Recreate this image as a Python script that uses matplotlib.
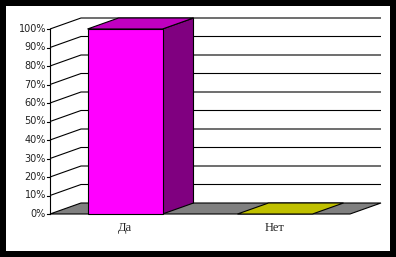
import matplotlib
matplotlib.use("Agg")
import matplotlib.pyplot as plt
from matplotlib.patches import Polygon, Rectangle

# Data
categories = ["Да", "Нет"]
values = [100, 0]  # percent
ticks = list(range(0, 101, 10))
tick_labels = [f"{t}%" for t in ticks]

front_colors = ["#FF00FF", "#FFFF00"]
top_colors = ["#C000C0", "#C0C000"]
side_colors = ["#800080", "#808000"]

fig = plt.figure(figsize=(3.96, 2.57), dpi=100)
fig.patch.set_facecolor("black")

ax = fig.add_axes([0, 0, 1, 1])
ax.set_facecolor("none")
ax.set_xlim(-50/150 - 0.5, 346/150 - 0.5)
ax.set_ylim((214-257)/1.85, 214/1.85)
ax.axis("off")
ax.add_patch(Rectangle((6/396, 6/257), 384/396, 245/257, transform=fig.transFigure,
                       facecolor="white", edgecolor="none", zorder=0))

DX = 31/150      # depth offset in x units
DY = 11/1.85     # depth offset in percent units
x0, x1 = -0.5, len(categories) - 0.5
bw = 0.5
lw = 0.8

# floor
ax.add_patch(Polygon([(x0, 0), (x1, 0), (x1+DX, DY), (x0+DX, DY)], closed=True,
                     facecolor="#808080", edgecolor="black", lw=lw, zorder=1))

# gridlines (side wall slant + back wall)
for t in ticks[1:]:
    ax.plot([x0, x0+DX, x1+DX], [t, t+DY, t+DY], color="black", lw=lw, zorder=1,
            solid_capstyle="butt")

# front axis and ticks
ax.plot([x0, x0], [0, 100], color="black", lw=lw, zorder=3)
for t, lab in zip(ticks, tick_labels):
    ax.plot([x0-2.5/150, x0], [t, t], color="black", lw=lw, zorder=3)
    ax.text(x0-4/150, t, lab, ha="right", va="center", fontsize=7,
            family="DejaVu Sans", color="#222222")

# bars
for i, (c, v) in enumerate(zip(categories, values)):
    l, r = i - bw/2, i + bw/2
    if v > 0:
        ax.add_patch(Polygon([(r, 0), (r+DX, DY), (r+DX, v+DY), (r, v)], closed=True,
                             facecolor=side_colors[i], edgecolor="black", lw=lw, zorder=4))
        ax.add_patch(Polygon([(l, 0), (r, 0), (r, v), (l, v)], closed=True,
                             facecolor=front_colors[i], edgecolor="black", lw=lw, zorder=5))
    ax.add_patch(Polygon([(l, v), (r, v), (r+DX, v+DY), (l+DX, v+DY)], closed=True,
                         facecolor=top_colors[i], edgecolor="black", lw=lw, zorder=4))
    ax.text(i, -14/1.85, c, ha="center", va="center", fontsize=9,
            family="Liberation Serif", color="#222222")

fig.savefig("out.png", dpi=100, facecolor=fig.get_facecolor())
